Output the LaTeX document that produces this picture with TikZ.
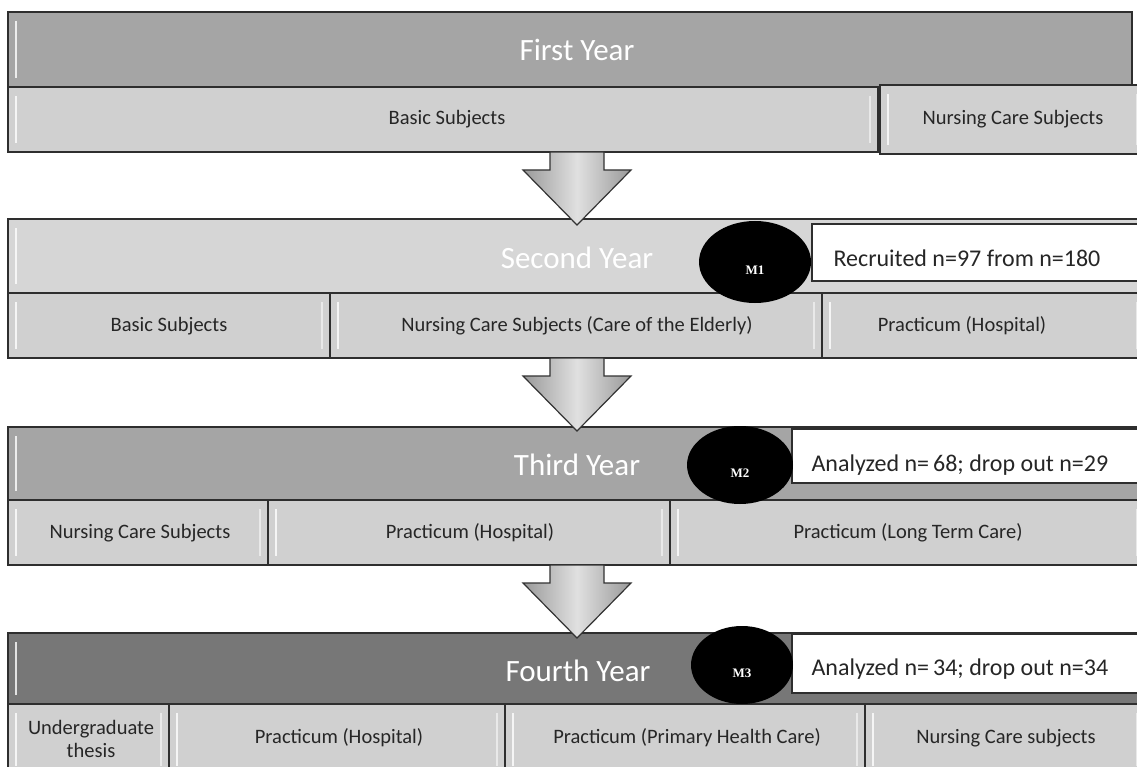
\documentclass[tikz,border=0pt]{standalone}
\usepackage{fontspec}
\setmainfont{Carlito}
\newfontfamily\mfont{Liberation Serif}
\usetikzlibrary{shapes.geometric}
\definecolor{hdrmid}{HTML}{A5A5A5}
\definecolor{hdrlight}{HTML}{D6D6D6}
\definecolor{hdrdark}{HTML}{777777}
\definecolor{cellgray}{HTML}{D0D0D0}
\definecolor{edgegray}{HTML}{2E2E2E}
\tikzset{
  leftbevel/.style={path picture={
    \draw[white, line width=2.5pt, opacity=0.8]
      ([xshift=8pt,yshift=-9pt]path picture bounding box.north west) --
      ([xshift=8pt,yshift=9pt]path picture bounding box.south west);}},
  bothbevel/.style={path picture={
    \draw[white, line width=2.5pt, opacity=0.8]
      ([xshift=8pt,yshift=-9pt]path picture bounding box.north west) --
      ([xshift=8pt,yshift=9pt]path picture bounding box.south west);
    \draw[white, line width=2.5pt, opacity=0.55]
      ([xshift=-8pt,yshift=-9pt]path picture bounding box.north east) --
      ([xshift=-8pt,yshift=9pt]path picture bounding box.south east);}},
  hdr/.style={draw=edgegray, line width=1.3pt, leftbevel},
  cell/.style={draw=edgegray, line width=1.3pt, fill=cellgray, bothbevel},
  hdrlabel/.style={text=white, font=\fontsize{31}{33}\selectfont},
  sublabel/.style={text=black!85, font=\fontsize{20.5}{24}\selectfont, align=center},
  notebox/.style={draw=edgegray, line width=1.2pt, fill=white},
  notelabel/.style={anchor=west, text=black!85, font=\fontsize{24}{26}\selectfont},
  mdisk/.style={ellipse, fill=black, minimum width=106pt, minimum height=78pt, inner sep=0pt,
    text=white, font=\mfont\bfseries\fontsize{13}{13}\selectfont},
  yeararrow/.style={draw=black!80, line width=1.2pt, line join=miter,
    left color=black!40, right color=black!40, middle color=black!12}
}
\begin{document}
\begin{tikzpicture}[x=1pt, y=-1pt]
\useasboundingbox (0,0) rectangle (1137,767);
\fill[white] (0,0) rectangle (1137,767);

\draw[hdr, fill=hdrmid] (8,12) rectangle (1132,87);
\node[hdrlabel] (y1) at (577,50) {First Year};
\draw[cell] (8,87) rectangle (878,152);
\node[sublabel] (y1a) at (447,119) {Basic Subjects};
\draw[cell] (880,85) rectangle (1145,154);
\node[sublabel] (y1b) at (1013,119) {Nursing Care Subjects};

\draw[hdr, fill=hdrlight] (8,219) rectangle (1145,293);
\node[hdrlabel] (y2) at (577,258) {Second Year};
\draw[cell] (8,293) rectangle (330,358);
\node[sublabel] (y2a) at (169,326) {Basic Subjects};
\draw[cell] (330,293) rectangle (822,358);
\node[sublabel] (y2b) at (577,326) {Nursing Care Subjects (Care of the Elderly)};
\draw[cell] (822,293) rectangle (1145,358);
\node[sublabel] (y2c) at (962,326) {Practicum (Hospital)};
\draw[notebox] (812,224) rectangle (1145,281);
\node[notelabel] (n2) at (830,258) {Recruited n=97 from n=180};
\node[mdisk, minimum width=112pt, minimum height=82pt] (m1) at (755,262) {\smash{\raisebox{-12pt}{M1}}};

\draw[hdr, fill=hdrmid] (8,427) rectangle (1145,500);
\node[hdrlabel] (y3) at (577,465) {Third Year};
\draw[cell] (8,500) rectangle (268,565);
\node[sublabel] (y3a) at (140,533) {Nursing Care Subjects};
\draw[cell] (268,500) rectangle (670,565);
\node[sublabel] (y3b) at (470,533) {Practicum (Hospital)};
\draw[cell] (670,500) rectangle (1145,565);
\node[sublabel] (y3c) at (908,533) {Practicum (Long Term Care)};
\draw[notebox] (792,429) rectangle (1145,483);
\node[notelabel] (n3) at (808,465) {Analyzed n=\,68;\ drop out n=29};
\node[mdisk] (m2) at (740,465) {\smash{\raisebox{-12pt}{M2}}};

\draw[hdr, fill=hdrdark] (8,633) rectangle (1145,704);
\node[hdrlabel] (y4) at (578,671) {Fourth Year};
\draw[cell] (8,704) rectangle (169,775);
\node[sublabel, font=\fontsize{20.5}{23}\selectfont] (y4a) at (91,739) {Undergraduate\\thesis};
\draw[cell] (169,704) rectangle (505,775);
\node[sublabel] (y4b) at (339,738) {Practicum (Hospital)};
\draw[cell] (505,704) rectangle (865,775);
\node[sublabel] (y4c) at (687,738) {Practicum (Primary Health Care)};
\draw[cell] (865,704) rectangle (1145,775);
\node[sublabel] (y4d) at (1006,738) {Nursing Care subjects};
\draw[notebox] (792,634) rectangle (1145,693);
\node[notelabel] (n4) at (808,669) {Analyzed n=\,34;\ drop out n=34};
\node[mdisk, minimum width=102pt] (m3) at (742,665) {\smash{\raisebox{-12pt}{M3}}};

\coordinate (a12) at (577,152);
\coordinate (a23) at (577,358);
\coordinate (a34) at (577,565);
\foreach \top in {a12, a23, a34}
  \draw[yeararrow] (\top) ++(-27,0) -- ++(0,18) -- ++(-27,0) -- ++(54,55)
    -- ++(54,-55) -- ++(-27,0) -- ++(0,-18) -- cycle;
\end{tikzpicture}
\end{document}
